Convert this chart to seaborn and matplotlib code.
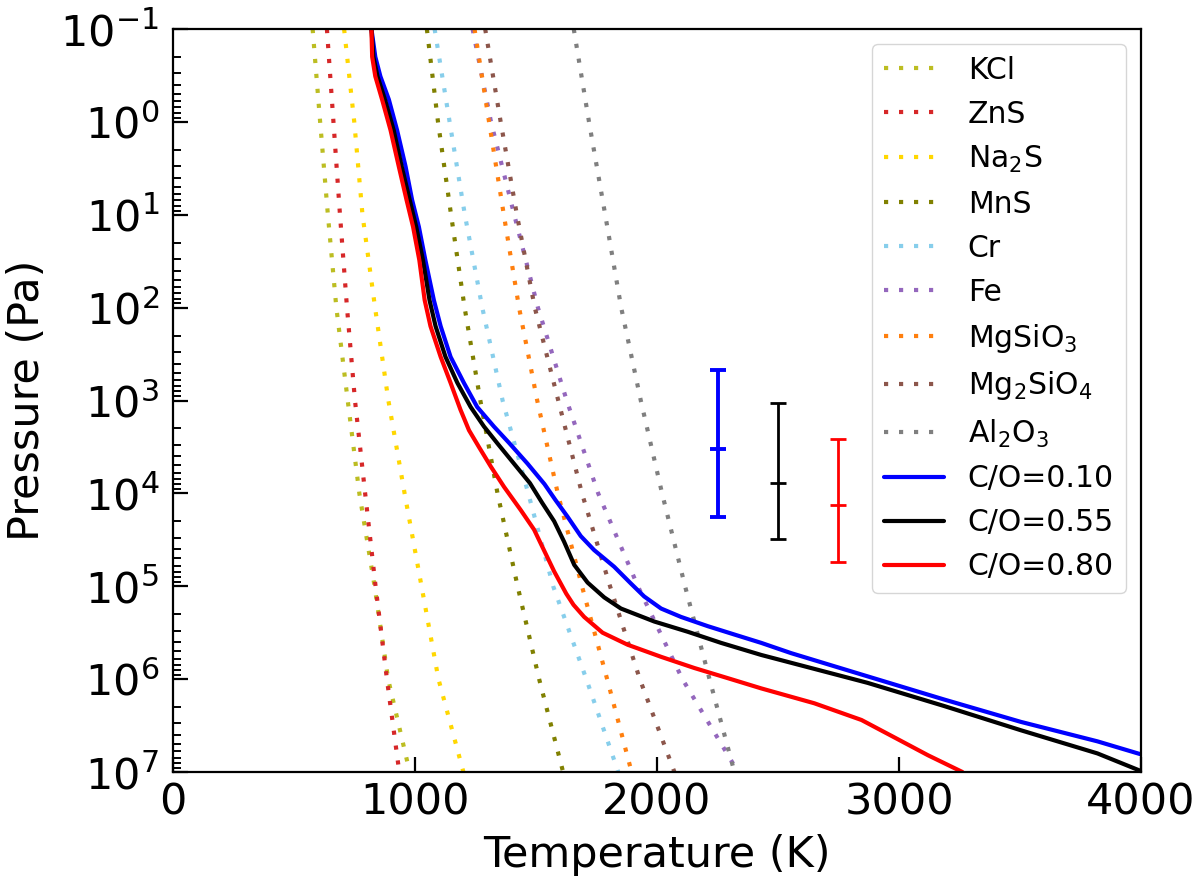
import numpy as np
import pandas as pd
import matplotlib
matplotlib.use("Agg")
import matplotlib.pyplot as plt
from matplotlib.ticker import LogLocator, NullFormatter
import seaborn as sns

# ---------------- data ----------------
cond_logP = [-1, 0, 1, 2, 3, 4, 5, 6, 7]
cond_names = ["KCl", "ZnS", "Na$_2$S", "MnS", "Cr", "Fe", "MgSiO$_3$", "Mg$_2$SiO$_4$", "Al$_2$O$_3$"]
cond_colors = ["#bcbd22", "#d62728", "gold", "olive", "skyblue", "#9467bd", "#ff7f0e", "#8c564b", "#7f7f7f"]
T_KCl = [577, 608, 640, 675, 722, 770, 833, 889, 978]
T_ZnS = [636, 663, 690, 719, 752, 794, 837, 884, 935]
T_Na2S = [707, 749, 783, 835, 890, 957, 1027, 1097, 1200]
T_MnS = [1049, 1095, 1149, 1205, 1270, 1341, 1424, 1513, 1612]
T_Cr = [1081, 1143, 1206, 1278, 1362, 1468, 1571, 1708, 1840]
T_Fe = [1238, 1314, 1410, 1508, 1627, 1757, 1921, 2105, 2335]
T_MgSiO3 = [1246, 1306, 1367, 1430, 1505, 1590, 1690, 1794, 1895]
T_Mg2SiO4 = [1290, 1354, 1421, 1495, 1592, 1690, 1806, 1929, 2072]
T_Al2O3 = [1656, 1719, 1786, 1852, 1933, 2021, 2116, 2217, 2320]
cond_T = [T_KCl, T_ZnS, T_Na2S, T_MnS, T_Cr, T_Fe, T_MgSiO3, T_Mg2SiO4, T_Al2O3]

prof_labels = ["C/O=0.10", "C/O=0.55", "C/O=0.80"]
prof_colors = ["blue", "black", "red"]
logP_010 = [-1.0, -0.70, -0.49, -0.24, 0.09, 0.48, 0.84, 1.13, 1.49, 1.92, 2.20, 2.53, 2.81,
            3.07, 3.28, 3.46, 3.68, 3.90, 4.07, 4.25, 4.46, 4.61, 4.79, 4.97, 5.11, 5.24,
            5.33, 5.43, 5.52, 5.61, 5.72, 5.97, 6.22, 6.46, 6.67, 6.81]
T_010 = [820, 836, 857, 892, 926, 961, 988, 1016, 1043, 1078, 1106, 1147, 1202,
         1257, 1326, 1390, 1465, 1535, 1580, 1630, 1685, 1740, 1823, 1892, 1947, 2017,
         2099, 2210, 2320, 2431, 2554, 2870, 3187, 3503, 3820, 4000]
logP_055 = [-1.0, -0.70, -0.49, -0.24, 0.09, 0.48, 0.84, 1.13, 1.49, 1.92, 2.20, 2.53, 2.81,
            3.07, 3.28, 3.46, 3.68, 3.89, 4.10, 4.30, 4.52, 4.77, 4.96, 5.12, 5.24, 5.38,
            5.49, 5.61, 5.74, 6.04, 6.29, 6.55, 6.80, 6.99]
T_055 = [820, 828, 845, 876, 912, 945, 978, 1005, 1033, 1060, 1085, 1126, 1175,
         1230, 1285, 1340, 1409, 1475, 1525, 1575, 1616, 1658, 1713, 1782, 1851, 1989,
         2127, 2265, 2431, 2870, 3187, 3503, 3820, 4000]
logP_080 = [-1.0, -0.70, -0.49, -0.24, 0.09, 0.48, 0.84, 1.13, 1.49, 1.92, 2.20, 2.53, 2.81,
            3.10, 3.32, 3.50, 3.71, 3.93, 4.18, 4.39, 4.58, 4.84, 5.08, 5.20, 5.33, 5.50,
            5.63, 5.76, 5.88, 5.99, 6.10, 6.26, 6.44, 6.64, 6.82, 7.0]
T_080 = [820, 823, 836, 864, 899, 933, 965, 992, 1018, 1040, 1064, 1106, 1147,
         1188, 1223, 1264, 1313, 1368, 1437, 1492, 1527, 1575, 1625, 1655, 1699, 1775,
         1879, 2017, 2154, 2293, 2431, 2650, 2845, 2990, 3120, 3262]
prof_logP = [logP_010, logP_055, logP_080]
prof_T = [T_010, T_055, T_080]

# error bars (temperature, log10 pressure of centre / top / bottom)
err_T = [2250, 2498, 2747]
err_logP_mid = [3.52, 3.89, 4.13]
err_logP_top = [2.67, 3.03, 3.41]
err_logP_bot = [4.25, 4.49, 4.74]
err_colors = ["blue", "black", "red"]
err_lw = [2.8, 2.0, 2.0]

xticks = [0, 1000, 2000, 3000, 4000]
ytick_exp = [-1, 0, 1, 2, 3, 4, 5, 6, 7]

# ---------------- style ----------------
sns.set_style("ticks")
plt.rcParams.update({
    "font.family": ["DejaVu Sans"],
    "xtick.direction": "in",
    "ytick.direction": "in",
    "axes.linewidth": 1.6,
    "axes.edgecolor": "black",
    "text.color": "black",
    "axes.labelcolor": "black",
    "xtick.color": "black",
    "ytick.color": "black",
})

fig = plt.figure(figsize=(12, 8.86), dpi=100)
ax = fig.add_axes([173 / 1200, 1 - 772 / 886, 968 / 1200, 743 / 886])
ax.set_yscale("log")

dot = (0, (1, 2.6))
for name, col, T in zip(cond_names, cond_colors, cond_T):
    df = pd.DataFrame({"T": T, "P": 10.0 ** np.array(cond_logP, dtype=float)})
    sns.lineplot(data=df, x="T", y="P", ax=ax, sort=False, estimator=None,
                 color=col, linewidth=3.0, linestyle=dot, label=name)

for lab, col, lp, T in zip(prof_labels, prof_colors, prof_logP, prof_T):
    df = pd.DataFrame({"T": T, "P": 10.0 ** np.array(lp, dtype=float)})
    sns.lineplot(data=df, x="T", y="P", ax=ax, sort=False, estimator=None,
                 color=col, linewidth=3.0, linestyle="-", label=lab)

for t, m, tp, bt, c, lw in zip(err_T, err_logP_mid, err_logP_top, err_logP_bot, err_colors, err_lw):
    pm = 10.0 ** m
    lo = pm - 10.0 ** tp
    hi = 10.0 ** bt - pm
    ax.errorbar([t], [pm], yerr=[[lo], [hi]], fmt="_", color=c, ecolor=c,
                elinewidth=lw, capsize=6, capthick=lw, markersize=12,
                markeredgewidth=lw, label="_nolegend_", zorder=5)

ax.set_xlim(0, 4000)
ax.set_ylim(1e7, 1e-1)
ax.set_xticks(xticks)
ax.set_yticks([10.0 ** e for e in ytick_exp])
ax.yaxis.set_minor_locator(LogLocator(base=10, subs=np.arange(2, 10), numticks=100))
ax.yaxis.set_minor_formatter(NullFormatter())

ax.tick_params(axis="both", which="major", labelsize=31, length=11, width=1.6,
               top=False, right=False, colors="black")
ax.tick_params(axis="x", which="major", pad=7)
ax.tick_params(axis="y", which="major", pad=10)
ax.tick_params(axis="y", which="minor", length=6, width=1.4, left=True, right=False,
               colors="black")
ax.tick_params(axis="x", which="minor", bottom=False, top=False)

ax.set_xlabel("Temperature (K)", fontsize=31, color="black")
ax.set_ylabel("Pressure (Pa)", fontsize=31, color="black")
ax.xaxis.set_label_coords(0.5, -0.083)
ax.yaxis.set_label_coords(-0.129, 0.5)

for s in ax.spines.values():
    s.set_visible(True)
    s.set_linewidth(1.6)
    s.set_color("black")

ax.legend(loc="upper right", fontsize=21.5, labelspacing=0.5, handlelength=2.0,
          frameon=True)

fig.savefig("out.png", dpi=100)
